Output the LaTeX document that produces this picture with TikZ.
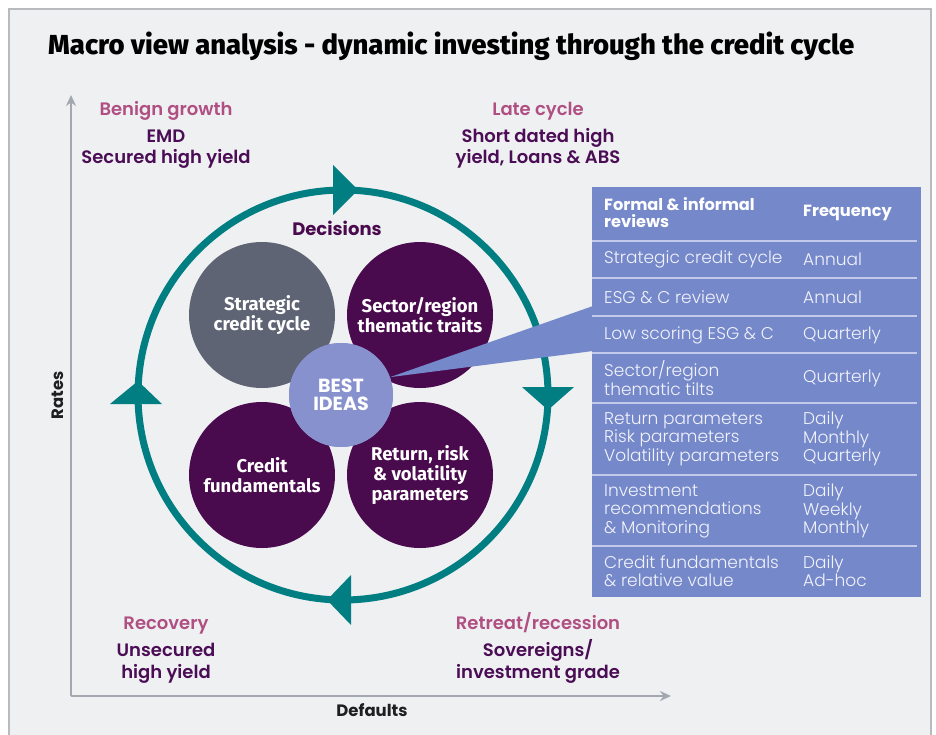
\documentclass[tikz,border=0pt]{standalone}
\usepackage{fontspec}
\usepackage{graphicx}
\usetikzlibrary{arrows.meta}
\setmainfont{Fira Sans}
\newfontfamily\fira{Fira Sans}
\newfontfamily\pop{Poppins}
\IfFontExistsTF{Poppins SemiBold}{\newfontfamily\popsb{Poppins SemiBold}}{\newcommand\popsb{\pop\bfseries}}
\IfFontExistsTF{Poppins Light}{\newfontfamily\popl{Poppins Light}}{\newcommand\popl{\pop}}
\IfFontExistsTF{Fira Sans ExtraBold}{\newfontfamily\firaxb{Fira Sans ExtraBold}}{\newcommand\firaxb{\fira\bfseries}}
\definecolor{bgc}{HTML}{EFF0F2}
\definecolor{framec}{HTML}{B9BABD}
\definecolor{cycteal}{HTML}{007E82}
\definecolor{plum}{HTML}{4A0A4E}
\definecolor{slatec}{HTML}{5E6473}
\definecolor{lavc}{HTML}{8791CD}
\definecolor{tblc}{HTML}{7588CA}
\definecolor{pinkc}{HTML}{B04F82}
\definecolor{dpurp}{HTML}{4B0D55}
\definecolor{axisc}{HTML}{A3A7AF}
\definecolor{rowc}{HTML}{C3C9E8}
\definecolor{tbltext}{HTML}{F2F3FB}
\begin{document}
\begin{tikzpicture}[x=1pt,y=-1pt,
  qhead/.style={anchor=base, text=pinkc, font=\popsb\fontsize{18}{21}\selectfont, inner sep=0},
  qbody/.style={anchor=base, text=dpurp, font=\popsb\fontsize{18}{21}\selectfont, inner sep=0},
  axlabel/.style={text=black!88, font=\pop\bfseries\fontsize{16.5}{18}\selectfont, inner sep=0},
  bubble/.style={circle, minimum size=146pt, inner sep=0, text=white, align=center,
     font=\fira\bfseries\fontsize{18.5}{20}\selectfont},
  arrowhead/.style={fill=cycteal},
  rowline/.style={draw=rowc, line width=1.3pt},
  tcell/.style={anchor=west, align=left, text=tbltext, inner sep=0,
     font=\popl\fontsize{17}{18.5}\selectfont},
  thead/.style={anchor=west, align=left, text=white, inner sep=0,
     font=\pop\bfseries\fontsize{16.2}{17}\selectfont}
]
\useasboundingbox (0,0) rectangle (936,734);
\fill[white] (0,0) rectangle (936,734);
\filldraw[fill=bgc, draw=framec, line width=1.5pt] (9,9) rectangle (931,750);

% title
\node[anchor=base west, inner sep=0, font=\firaxb\fontsize{27.5}{30}\selectfont] (title) at (48,54)
  {Macro view analysis - dynamic investing through the credit cycle};

% axes
\coordinate (origin) at (71,696);
\coordinate (ytip) at (71,95);
\coordinate (xtip) at (671,696);
\draw[axisc, line width=2pt, -{Stealth[length=11pt,width=10pt]}] (origin) -- (ytip);
\draw[axisc, line width=2pt, -{Stealth[length=11pt,width=10pt]}] (origin) -- (xtip);
\node[axlabel, rotate=90] (rates) at (58,395) {Rates};
\node[axlabel] (defaults) at (372,710) {Defaults};

% quadrant labels
\node[qhead] (benign) at (166,115) {Benign growth};
\node[qbody] (emd) at (166,142) {EMD};
\node[qbody] (shy) at (166,163) {Secured high yield};
\node[qhead] (late) at (538,115) {Late cycle};
\node[qbody] (sdh) at (538,142) {Short dated high};
\node[qbody] (yla) at (538,163) {yield, Loans \& ABS};
\node[qhead] (recov) at (166,629) {Recovery};
\node[qbody] (unsec) at (166,656) {Unsecured};
\node[qbody] (hy) at (166,678) {high yield};
\node[qhead] (retreat) at (538,629) {Retreat/recession};
\node[qbody] (sov) at (538,656) {Sovereigns/};
\node[qbody] (ig) at (538,678) {investment grade};

% cycle ring
\coordinate (ringc) at (343,395);
\draw[cycteal, line width=7pt] (ringc) circle[radius=205];
\fill[arrowhead] (358,190) -- (333,165) -- (333,215) -- cycle;
\fill[arrowhead] (548,410) -- (522,387) -- (574,387) -- cycle;
\fill[arrowhead] (327,600) -- (351,575) -- (351,625) -- cycle;
\fill[arrowhead] (138,381) -- (110,404) -- (162,404) -- cycle;

\node[text=plum, font=\pop\bfseries\fontsize{18}{21}\selectfont, inner sep=0] (decisions) at (337,228) {Decisions};

% bubbles
\node[bubble, fill=slatec] (strat) at (262,315) {Strategic\\credit cycle};
\node[bubble, fill=plum] (sector) at (420,315) {Sector/region\\thematic traits};
\node[bubble, fill=plum] (credit) at (262,475) {Credit\\fundamentals};
\node[bubble, fill=plum] (ret) at (420,475) {Return, risk\\\& volatility\\parameters};

% table
\node[fill=tblc, minimum width=329pt, minimum height=410pt, anchor=north west, inner sep=0] (tbl) at (592,187) {};
\coordinate (wtop) at (593,306);
\coordinate (wbot) at (593,351);

\node[circle, fill=lavc, minimum size=104pt, inner sep=0] (best) at (341,395) {};
\fill[tblc] (best.20) -- (wtop) -- (wbot) -- cycle;
\node[circle, fill=lavc, minimum size=104pt, inner sep=0, text=white, align=center,
  font=\pop\bfseries\fontsize{19}{17.5}\selectfont] (bestlbl) at (best.center) {BEST\\IDEAS};

\foreach \yy in {241,278,316,353,403,475,546} \draw[rowline] (592,\yy) -- (917,\yy);

\node[thead] (h1) at (604,213) {Formal \& informal\\reviews};
\node[thead] (h2) at (803,213) {Frequency};

\node[tcell] (r1a) at (604,259) {Strategic credit cycle};
\node[tcell] (r1b) at (803,259) {Annual};
\node[tcell] (r2a) at (604,297) {ESG \& C review};
\node[tcell] (r2b) at (803,297) {Annual};
\node[tcell] (r3a) at (604,335) {Low scoring ESG \& C};
\node[tcell] (r3b) at (803,335) {Quarterly};
\node[tcell] (r4a) at (604,378) {Sector/region\\thematic tilts};
\node[tcell] (r4b) at (803,378) {Quarterly};
\node[tcell] (r5a) at (604,439) {Return parameters\\Risk parameters\\Volatility parameters};
\node[tcell] (r5b) at (803,439) {Daily\\Monthly\\Quarterly};
\node[tcell] (r6a) at (604,511) {Investment\\recommendations\\\& Monitoring};
\node[tcell] (r6b) at (803,511) {Daily\\Weekly\\Monthly};
\node[tcell] (r7a) at (604,571) {Credit fundamentals\\\& relative value};
\node[tcell] (r7b) at (803,571) {Daily\\Ad-hoc};
\end{tikzpicture}
\end{document}
